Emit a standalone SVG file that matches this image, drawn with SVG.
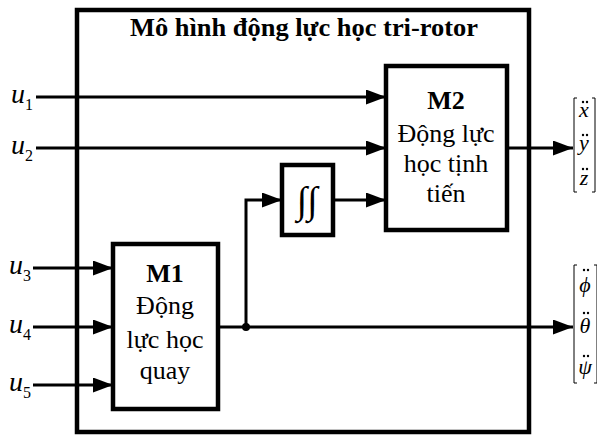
<svg xmlns="http://www.w3.org/2000/svg" width="597" height="435" viewBox="0 0 597 435">
<defs>
<marker id="arr" markerWidth="20" markerHeight="15" refX="20" refY="7.5" orient="auto" markerUnits="userSpaceOnUse">
<path d="M0,0 L20,7.5 L0,15 Z" fill="#000"/>
</marker>
<style>
.box{fill:#fff;stroke:#000;stroke-width:4.5}
.ln{fill:none;stroke:#000;stroke-width:3}
.t{font-family:"Liberation Serif",serif;fill:#000;text-anchor:middle}
.b{font-weight:bold}
.it{font-style:italic;font-family:"Liberation Serif",serif;fill:#000}
.sub{font-style:normal;font-size:16px}
.v{font-style:italic;font-family:"Liberation Serif",serif;fill:#000;text-anchor:middle;font-size:22px}
.br{fill:none;stroke:#000;stroke-width:1}
</style>
</defs>
<rect width="597" height="435" fill="#fff"/>
<g id="outer">
<rect x="77" y="10" width="452" height="422" fill="none" stroke="#000" stroke-width="4.5"/>
<text class="t b" x="304" y="36" font-size="25" textLength="348" lengthAdjust="spacingAndGlyphs">Mô hình động lực học tri-rotor</text>
</g>
<g id="connectors">
<line class="ln" x1="36" y1="97" x2="386" y2="97" marker-end="url(#arr)"/>
<line class="ln" x1="36" y1="148" x2="386" y2="148" marker-end="url(#arr)"/>
<line class="ln" x1="33" y1="268" x2="113" y2="268" marker-end="url(#arr)"/>
<line class="ln" x1="33" y1="327" x2="113" y2="327" marker-end="url(#arr)"/>
<line class="ln" x1="33" y1="385" x2="113" y2="385" marker-end="url(#arr)"/>
<line class="ln" x1="218" y1="327" x2="573" y2="327" marker-end="url(#arr)"/>
<polyline class="ln" points="246,327 246,200 282,200" marker-end="url(#arr)"/>
<line class="ln" x1="333" y1="200" x2="386" y2="200" marker-end="url(#arr)"/>
<line class="ln" x1="507" y1="148" x2="573" y2="148" marker-end="url(#arr)"/>
<circle cx="246" cy="327" r="4" fill="#000"/>
</g>
<g id="M1">
<rect class="box" x="113" y="244" width="105" height="165"/>
<text class="t b" x="165" y="282" font-size="26">M1</text>
<text class="t" x="165" y="314" font-size="26">Động</text>
<text class="t" x="165" y="348" font-size="26">lực học</text>
<text class="t" x="165" y="379" font-size="26">quay</text>
</g>
<g id="M2">
<rect class="box" x="386" y="66" width="121" height="164"/>
<text class="t b" x="446" y="109" font-size="26">M2</text>
<text class="t" x="446" y="142" font-size="26">Động lực</text>
<text class="t" x="446" y="172" font-size="26">học tịnh</text>
<text class="t" x="446" y="202" font-size="26">tiến</text>
</g>
<g id="integrator">
<rect class="box" x="282" y="165" width="51" height="70"/>
<text class="t" x="307" y="213" font-size="38" font-style="italic">∫∫</text>
</g>
<g id="inputs">
<text class="it" x="11" y="103" font-size="28">u<tspan class="sub" dy="7">1</tspan></text>
<text class="it" x="11" y="154" font-size="28">u<tspan class="sub" dy="7">2</tspan></text>
<text class="it" x="9" y="274" font-size="28">u<tspan class="sub" dy="7">3</tspan></text>
<text class="it" x="9" y="333" font-size="28">u<tspan class="sub" dy="7">4</tspan></text>
<text class="it" x="9" y="391" font-size="28">u<tspan class="sub" dy="7">5</tspan></text>
</g>
<g id="out1">
<path class="br" d="M577,98 H574 V192 H577 M592,98 H595 V192 H592"/>
<text class="v" x="584" y="117">x</text>
<text class="v" x="584" y="150">y</text>
<text class="v" x="584" y="185">z</text>
<g fill="#000">
<circle cx="583" cy="102" r="1.2"/><circle cx="587" cy="102" r="1.2"/>
<circle cx="583" cy="135" r="1.2"/><circle cx="587" cy="135" r="1.2"/>
<circle cx="583" cy="169" r="1.2"/><circle cx="587" cy="169" r="1.2"/>
</g>
</g>
<g id="out2">
<path class="br" d="M577,265 H574 V383 H577 M594,265 H597 V383 H594"/>
<text class="v" x="585" y="292">ϕ</text>
<text class="v" x="585" y="333">θ</text>
<text class="v" x="585" y="374">ψ</text>
<g fill="#000">
<circle cx="584" cy="270" r="1.2"/><circle cx="588" cy="270" r="1.2"/>
<circle cx="584" cy="313" r="1.2"/><circle cx="588" cy="313" r="1.2"/>
<circle cx="584" cy="356" r="1.2"/><circle cx="588" cy="356" r="1.2"/>
</g>
</g>
</svg>
